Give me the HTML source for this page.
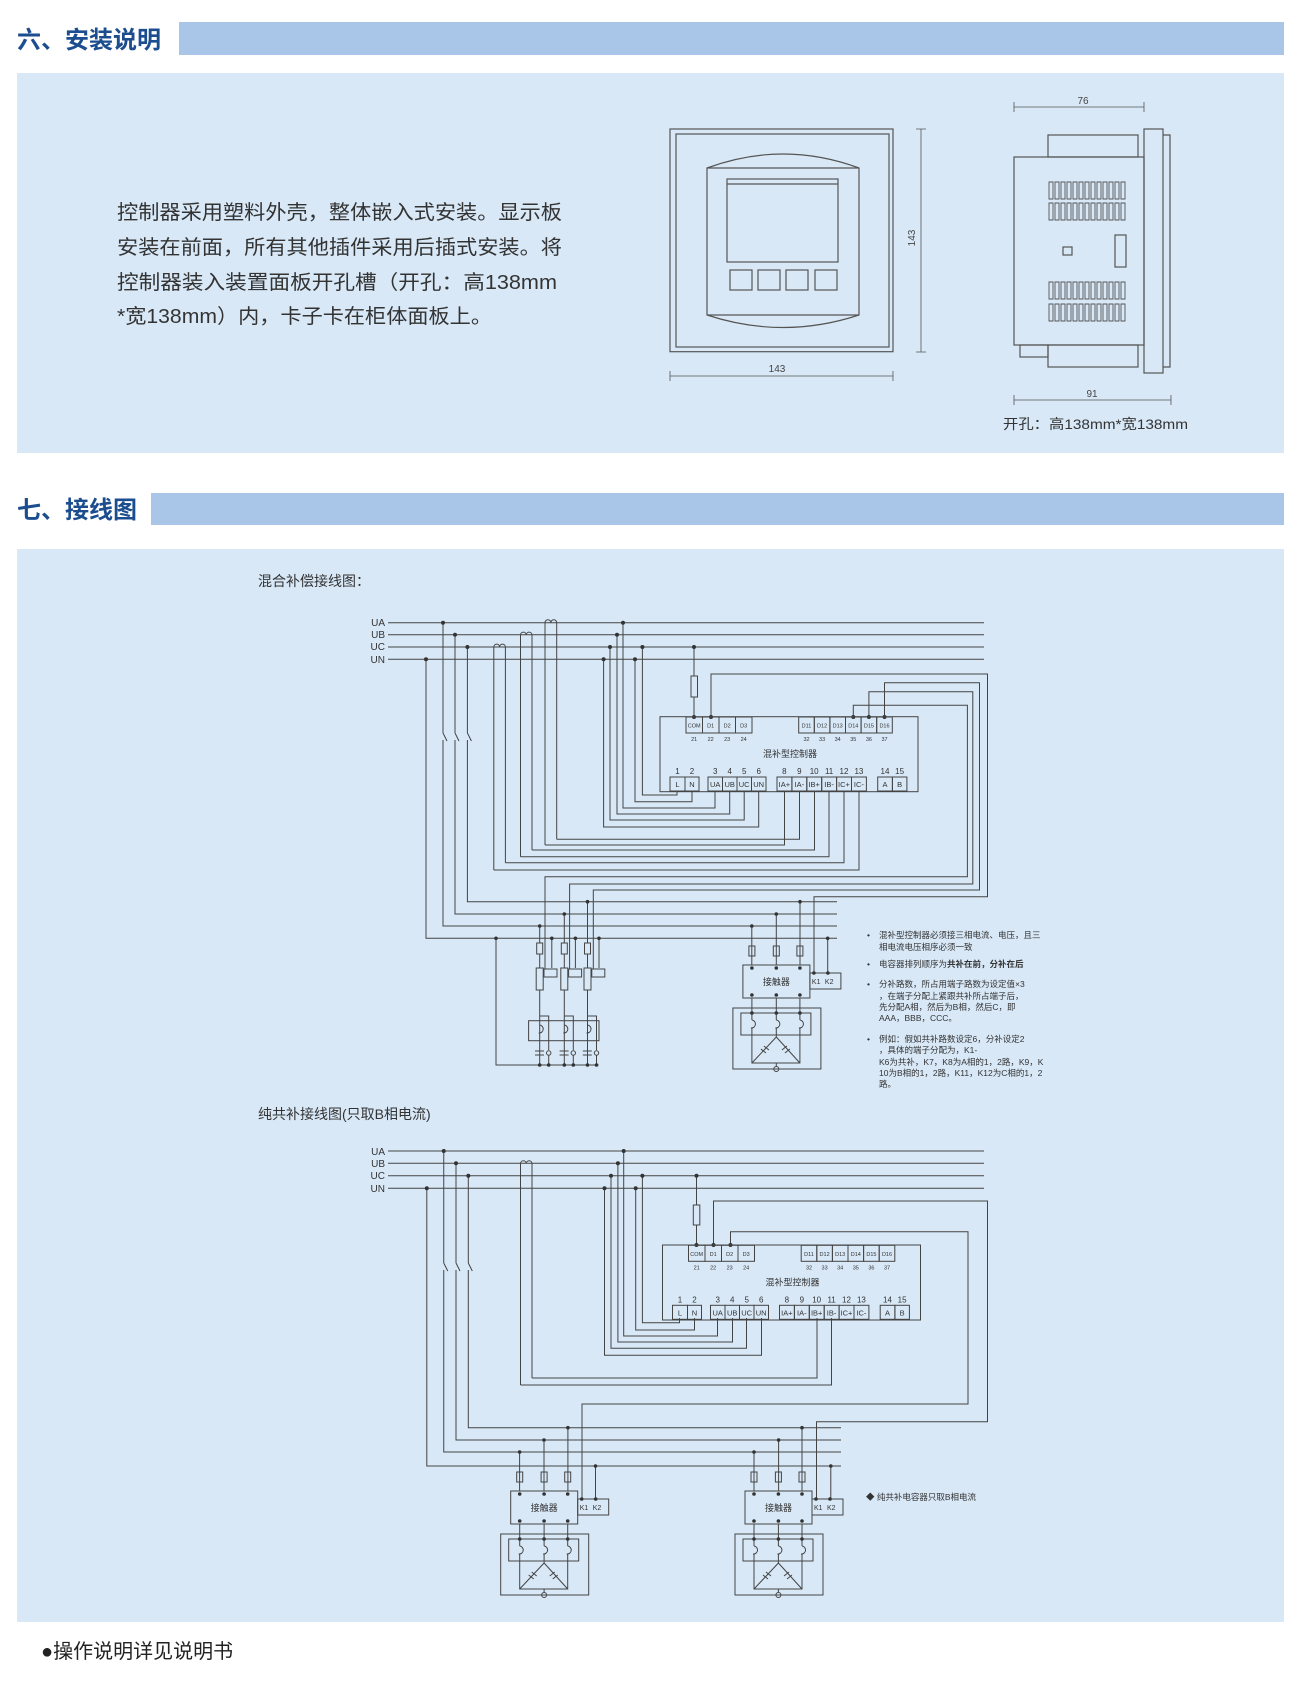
<!DOCTYPE html>
<html><head><meta charset="utf-8"><style>
html,body{margin:0;padding:0;background:#fff}
svg{display:block}
text{font-family:"Liberation Sans","Noto Sans CJK SC",sans-serif}
</style></head><body>
<svg width="1300" height="1684" viewBox="0 0 1300 1684" xmlns="http://www.w3.org/2000/svg">
<defs>
<g id="unit" fill="none" stroke="#444" stroke-width="1">
 <rect x="0" y="0" width="67" height="33"/>
 <rect x="67" y="8" width="31" height="16"/>
 <rect x="6" y="-19" width="6" height="10"/><rect x="30.4" y="-19" width="6" height="10"/><rect x="54" y="-19" width="6" height="10"/>
 <rect x="-10" y="43" width="88" height="61"/>
 <rect x="-2" y="48" width="70" height="22"/>
 <path d="M9 33V55M33.4 33V55M57 33V55"/>
 <path d="M9 55a4 4 0 1 1 -1 8M33.4 55a4 4 0 1 1 -1 8M57 55a4 4 0 1 1 -1 8"/>
 <path d="M9 63V98H57V63M33.4 63V72M33.4 72L9 98M33.4 72L57 98M33.4 98V101"/>
 <path d="M18 84l5 4M21 81l5 4M44 81l-5 4M47 84l-5 4"/>
 <circle cx="33.4" cy="104" r="2.5"/>
 <g fill="#333" stroke="none"><circle cx="9" cy="3" r="1.8"/><circle cx="33.4" cy="3" r="1.8"/><circle cx="57" cy="3" r="1.8"/><circle cx="9" cy="30" r="1.8"/><circle cx="33.4" cy="30" r="1.8"/><circle cx="57" cy="30" r="1.8"/><circle cx="9" cy="48" r="1.8"/><circle cx="33.4" cy="48" r="1.8"/><circle cx="57" cy="48" r="1.8"/><circle cx="71" cy="8" r="1.8"/><circle cx="85" cy="8" r="1.8"/>
 <text x="33.5" y="20" font-size="9" text-anchor="middle" fill="#333">接触器</text>
 <text x="69" y="19" font-size="7" fill="#333">K1</text><text x="82" y="19" font-size="7" fill="#333">K2</text></g>
</g>
<g id="ctrl" stroke="#444" stroke-width="1" fill="none">
 <rect x="660" y="716.7" width="258" height="75"/>
 <rect x="686" y="717" width="16.5" height="16"/><rect x="702.5" y="717" width="16.5" height="16"/><rect x="719" y="717" width="16.5" height="16"/><rect x="735.5" y="717" width="16.5" height="16"/>
 <rect x="798.7" y="717" width="15.6" height="16"/><rect x="814.3" y="717" width="15.6" height="16"/><rect x="829.9" y="717" width="15.6" height="16"/><rect x="845.5" y="717" width="15.6" height="16"/><rect x="861.1" y="717" width="15.6" height="16"/><rect x="876.7" y="717" width="15.6" height="16"/>
 <rect x="670" y="777" width="15" height="14"/><rect x="685" y="777" width="14" height="14"/>
 <rect x="708" y="777" width="14.5" height="14"/><rect x="722.5" y="777" width="14.5" height="14"/><rect x="737" y="777" width="14.5" height="14"/><rect x="751.5" y="777" width="14.5" height="14"/>
 <rect x="777" y="777" width="14.9" height="14"/><rect x="791.9" y="777" width="14.9" height="14"/><rect x="806.8" y="777" width="14.9" height="14"/><rect x="821.7" y="777" width="14.9" height="14"/><rect x="836.6" y="777" width="14.9" height="14"/><rect x="851.5" y="777" width="14.9" height="14"/>
 <rect x="877.7" y="777" width="14.7" height="14"/><rect x="892.4" y="777" width="14.5" height="14"/>
 <g fill="#333" stroke="none" font-size="5.5" text-anchor="middle">
  <text x="694.2" y="727.5">COM</text><text x="710.7" y="727.5">D1</text><text x="727.2" y="727.5">D2</text><text x="743.7" y="727.5">D3</text>
  <text x="806.5" y="727.5">D11</text><text x="822.1" y="727.5">D12</text><text x="837.7" y="727.5">D13</text><text x="853.3" y="727.5">D14</text><text x="868.9" y="727.5">D15</text><text x="884.5" y="727.5">D16</text>
  <text x="694.2" y="741">21</text><text x="710.7" y="741">22</text><text x="727.2" y="741">23</text><text x="743.7" y="741">24</text>
  <text x="806.5" y="741">32</text><text x="822.1" y="741">33</text><text x="837.7" y="741">34</text><text x="853.3" y="741">35</text><text x="868.9" y="741">36</text><text x="884.5" y="741">37</text>
  <g font-size="7.5"><text x="677.5" y="787">L</text><text x="692" y="787">N</text><text x="715.2" y="787">UA</text><text x="729.7" y="787">UB</text><text x="744.2" y="787">UC</text><text x="758.7" y="787">UN</text>
  <text x="784.4" y="787">IA+</text><text x="799.3" y="787">IA-</text><text x="814.2" y="787">IB+</text><text x="829.1" y="787">IB-</text><text x="844" y="787">IC+</text><text x="858.9" y="787">IC-</text><text x="885" y="787">A</text><text x="899.6" y="787">B</text></g>
  <g font-size="8"><text x="677.5" y="774">1</text><text x="692" y="774">2</text><text x="715.2" y="774">3</text><text x="729.7" y="774">4</text><text x="744.2" y="774">5</text><text x="758.7" y="774">6</text>
  <text x="784.4" y="774">8</text><text x="799.3" y="774">9</text><text x="814.2" y="774">10</text><text x="829.1" y="774">11</text><text x="844" y="774">12</text><text x="858.9" y="774">13</text><text x="885" y="774">14</text><text x="899.6" y="774">15</text></g>
  <text x="790" y="757" font-size="9">混补型控制器</text>
 </g>
</g>
</defs>

<!-- Section 1 heading -->
<rect x="179" y="22" width="1105" height="33" fill="#a9c6e9"/>
<text x="17" y="48" font-size="24" fill="#1b4d8f" font-weight="bold">六、安装说明</text>
<rect x="17" y="73" width="1267" height="380" fill="#d8e8f7"/>
<g font-size="20" fill="#333">
<text x="117" y="219" textLength="445" lengthAdjust="spacingAndGlyphs">控制器采用塑料外壳，整体嵌入式安装。显示板</text>
<text x="117" y="254" textLength="445" lengthAdjust="spacingAndGlyphs">安装在前面，所有其他插件采用后插式安装。将</text>
<text x="117" y="289" textLength="440" lengthAdjust="spacingAndGlyphs">控制器装入装置面板开孔槽（开孔：高138mm</text>
<text x="117" y="323" textLength="375" lengthAdjust="spacingAndGlyphs">*宽138mm）内，卡子卡在柜体面板上。</text>
</g>
<!-- front view -->
<g fill="none" stroke="#555" stroke-width="1.2">
<rect x="670" y="129" width="223" height="222.7"/>
<rect x="676" y="134" width="213" height="213"/>
<path d="M707 168Q783 140 859 168V315Q783 340 707 315Z"/>
<path d="M707 168H859M707 315H859"/>
<rect x="727" y="179" width="111" height="83"/><path d="M727 184H838"/>
<rect x="730" y="270" width="22" height="20"/><rect x="758" y="270" width="22" height="20"/><rect x="786" y="270" width="22" height="20"/><rect x="815" y="270" width="22" height="20"/>
<path d="M921 129V352M916 129h10M916 352h10M670 376H893M670 371v10M893 371v10" stroke-width="0.8"/>
</g>
<text x="777" y="372" font-size="10" fill="#444" text-anchor="middle">143</text>
<text x="0" y="0" font-size="10" fill="#444" text-anchor="middle" transform="translate(915,238) rotate(-90)">143</text>
<!-- side view -->
<g fill="none" stroke="#555" stroke-width="1.2">
<rect x="1014" y="157" width="130" height="188"/>
<rect x="1048" y="135" width="90" height="22"/>
<rect x="1048" y="345" width="90" height="22"/>
<rect x="1020" y="345" width="28" height="12"/>
<rect x="1144" y="129" width="19" height="244"/>
<path d="M1163 135h7v232h-7"/>
<rect x="1063" y="247" width="9" height="8"/>
<rect x="1115" y="235" width="11" height="32"/>
<path d="M1014 107H1144M1014 102v10M1144 102v10M1014 400H1171M1014 395v10M1171 395v10" stroke-width="0.8"/>
</g>
<g fill="none" stroke="#555" stroke-width="0.9">
<path id="vent" d="M1049 182h4v17h-4zM1055 182h4v17h-4zM1061 182h4v17h-4zM1067 182h4v17h-4zM1073 182h4v17h-4zM1079 182h4v17h-4zM1085 182h4v17h-4zM1091 182h4v17h-4zM1097 182h4v17h-4zM1103 182h4v17h-4zM1109 182h4v17h-4zM1115 182h4v17h-4zM1121 182h4v17h-4z"/>
<use href="#vent" y="21"/><use href="#vent" y="100"/><use href="#vent" y="122"/>
</g>
<text x="1083" y="104" font-size="10" fill="#444" text-anchor="middle">76</text>
<text x="1092" y="397" font-size="10" fill="#444" text-anchor="middle">91</text>
<text x="1003" y="429" font-size="14" fill="#333" textLength="185" lengthAdjust="spacingAndGlyphs">开孔：高138mm*宽138mm</text>

<!-- Section 2 heading -->
<rect x="151" y="493" width="1133" height="32" fill="#a9c6e9"/>
<text x="17" y="518" font-size="24" fill="#1b4d8f" font-weight="bold">七、接线图</text>
<rect x="17" y="549" width="1267" height="1073" fill="#d8e8f7"/>
<text x="41" y="1658" font-size="20" fill="#222">●操作说明详见说明书</text>

<!-- Diagram 1 -->
<text x="258" y="586" font-size="14" fill="#333">混合补偿接线图：</text>
<g font-size="10" fill="#333" text-anchor="end"><text x="385" y="626">UA</text><text x="385" y="638">UB</text><text x="385" y="650">UC</text><text x="385" y="663">UN</text></g>
<g fill="none" stroke="#444" stroke-width="1">
<path d="M388 622.7H984M388 634.7H984M388 647H984M388 659.3H984"/>
<path d="M493.8 870V647a2.9 2.9 0 0 1 5.8 0a2.9 2.9 0 0 1 5.8 0V862.7"/>
<path d="M520.5 856.7V634.7a2.9 2.9 0 0 1 5.75 0a2.9 2.9 0 0 1 5.75 0V850"/>
<path d="M545 845V622.7a2.9 2.9 0 0 1 5.85 0a2.9 2.9 0 0 1 5.85 0V839.3"/>
<path d="M493.8 870H859V791M505.4 862.7H844V791M520.5 856.7H829V791M532 850H814.5V791M545 845H784.5V791M556.7 839.3H799.5V791"/>
<path d="M426 659.3V938.3H837M443 622.7V733M443 740V926H837M455 634.7V733M455 740V914H837M467.4 647V733M467.4 740V901.7H837"/>
<path d="M443 733l4 8M455 733l4 8M467.4 733l4 8"/>
<path d="M677 791V795H642.4V647M692 791V801.7H635V659.3M715 791V808H623V622.7M729.7 791V814H617V634.7M744.2 791V820H610V647M758.7 791V827H603.6V659.3"/>
<path d="M694 647V717"/><rect x="691" y="676" width="6.5" height="21" fill="#d8e8f7"/>
<path d="M711 717V674H987.5V896.7H814V973"/>
<path d="M853.3 717V705.3H967.4V876.7H545V973"/>
<path d="M868.9 717V691.7H972.8V884H569.6V973"/>
<path d="M884.5 717V682.7H979.5V890H593.3V973"/>
<path d="M539.7 926V1065M564.3 914V1065M587.5 901.7V1065M496 938.3V1065H598.5"/>
<path d="M551.8 938.3V968M575.4 938.3V968M599 938.3V968"/>
<g fill="#d8e8f7">
<rect x="536.7" y="943" width="6" height="11"/><rect x="561.3" y="943" width="6" height="11"/><rect x="584.5" y="943" width="6" height="11"/>
<rect x="536.2" y="968" width="7" height="22"/><rect x="560.8" y="968" width="7" height="22"/><rect x="584" y="968" width="7" height="22"/>
<rect x="544" y="969" width="13" height="8"/><rect x="568.6" y="969" width="13" height="8"/><rect x="591.8" y="969" width="13" height="8"/>
</g>
<rect x="528.6" y="1020.7" width="70.4" height="20"/>
<path d="M539.7 1016h9v34M564.3 1016h9v34M587.5 1016h9v34"/>
<path d="M539.7 1025a4 4 0 1 1 -1 8M564.3 1025a4 4 0 1 1 -1 8M587.5 1025a4 4 0 1 1 -1 8"/>
<path d="M535 1051h9M535 1055h9M559.6 1051h9M559.6 1055h9M582.8 1051h9M582.8 1055h9"/>
<circle cx="548.7" cy="1053" r="2.2"/><circle cx="573.3" cy="1053" r="2.2"/><circle cx="596.5" cy="1053" r="2.2"/>
<path d="M548.7 1055V1065M573.3 1055V1065M596.5 1055V1065"/>
<path d="M751.8 926V965M776.3 914V965M800 901.7V965M827.7 938.3V973"/>
</g>
<g fill="#333">
<circle cx="443" cy="622.7" r="2"/><circle cx="623" cy="622.7" r="2"/><circle cx="455" cy="634.7" r="2"/><circle cx="617" cy="634.7" r="2"/>
<circle cx="467.4" cy="647" r="2"/><circle cx="610" cy="647" r="2"/><circle cx="642.4" cy="647" r="2"/><circle cx="694" cy="647" r="2"/>
<circle cx="426" cy="659.3" r="2"/><circle cx="603.6" cy="659.3" r="2"/><circle cx="635" cy="659.3" r="2"/>
<circle cx="694" cy="717" r="2"/><circle cx="711" cy="717" r="2"/><circle cx="853.3" cy="717" r="2"/><circle cx="868.9" cy="717" r="2"/><circle cx="884.5" cy="717" r="2"/>
<circle cx="539.7" cy="926" r="1.8"/><circle cx="564.3" cy="914" r="1.8"/><circle cx="587.5" cy="901.7" r="1.8"/><circle cx="496" cy="938.3" r="1.8"/>
<circle cx="551.8" cy="938.3" r="1.8"/><circle cx="575.4" cy="938.3" r="1.8"/><circle cx="599" cy="938.3" r="1.8"/>
<circle cx="751.8" cy="926" r="1.8"/><circle cx="776.3" cy="914" r="1.8"/><circle cx="800" cy="901.7" r="1.8"/><circle cx="827.7" cy="938.3" r="1.8"/>
<circle cx="539.7" cy="1065" r="1.8"/><circle cx="548.7" cy="1065" r="1.8"/><circle cx="564.3" cy="1065" r="1.8"/><circle cx="573.3" cy="1065" r="1.8"/><circle cx="587.5" cy="1065" r="1.8"/><circle cx="596.5" cy="1065" r="1.8"/>
</g>
<use href="#ctrl"/>
<use href="#unit" x="742.9" y="965"/>
<g font-size="8.5" fill="#333">
<text x="867" y="938">•</text><text x="879" y="938">混补型控制器必须接三相电流、电压，且三</text>
<text x="879" y="950">相电流电压相序必须一致</text>
<text x="867" y="967">•</text><text x="879" y="967">电容器排列顺序为<tspan font-weight="bold">共补在前，分补在后</tspan></text>
<text x="867" y="987">•</text><text x="879" y="987">分补路数，所占用端子路数为设定值×3</text>
<text x="879" y="999">，在端子分配上紧跟共补所占端子后，</text>
<text x="879" y="1010">先分配A相，然后为B相，然后C，即</text>
<text x="879" y="1021">AAA，BBB，CCC。</text>
<text x="867" y="1042">•</text><text x="879" y="1042">例如：假如共补路数设定6，分补设定2</text>
<text x="879" y="1053">，具体的端子分配为，K1-</text>
<text x="879" y="1065">K6为共补，K7，K8为A相的1，2路，K9，K</text>
<text x="879" y="1076">10为B相的1，2路，K11，K12为C相的1，2</text>
<text x="879" y="1087">路。</text>
</g>

<!-- Diagram 2 -->
<text x="258" y="1119" font-size="14" fill="#333">纯共补接线图(只取B相电流)</text>
<g font-size="10" fill="#333" text-anchor="end"><text x="385" y="1155">UA</text><text x="385" y="1167">UB</text><text x="385" y="1179">UC</text><text x="385" y="1192">UN</text></g>
<g fill="none" stroke="#444" stroke-width="1">
<path d="M388 1151H984M388 1163.3H984M388 1175.7H984M388 1188.3H984"/>
<path d="M520.5 1385V1163.3a2.9 2.9 0 0 1 5.75 0a2.9 2.9 0 0 1 5.75 0V1378"/>
<path d="M520.5 1385H831.5V1318M532 1378H817V1318"/>
<path d="M426.8 1188.3V1466H841M443.75 1151V1263M443.75 1270V1452H841M456 1163.3V1263M456 1270V1440H841M468.3 1175.7V1263M468.3 1270V1427.7H841"/>
<path d="M443.75 1263l4 8M456 1263l4 8M468.3 1263l4 8"/>
<path d="M679.5 1318V1322.7H642.4V1175.7M694.5 1318V1330H635.7V1188.3M717.5 1318V1336H623.7V1151M732.5 1318V1342H617.9V1163.3M746.5 1318V1348.3H611V1175.7M761.5 1318V1355.3H604.5V1188.3"/>
<path d="M696.5 1175.7V1245"/><rect x="693.3" y="1205" width="6.5" height="20" fill="#d8e8f7"/>
<path d="M713.5 1245V1201H987.5V1421.7H816.5V1499"/>
<path d="M730.5 1245V1231.7H968V1404H582V1499"/>
<path d="M519.6 1452V1491M544 1440V1491M567.9 1427.7V1491M595.5 1466V1499"/>
<path d="M754 1452V1491M778.6 1440V1491M802 1427.7V1491M830.8 1466V1499"/>
</g>
<g fill="#333">
<circle cx="443.75" cy="1151" r="2"/><circle cx="623.7" cy="1151" r="2"/><circle cx="456" cy="1163.3" r="2"/><circle cx="617.9" cy="1163.3" r="2"/>
<circle cx="468.3" cy="1175.7" r="2"/><circle cx="611" cy="1175.7" r="2"/><circle cx="642.4" cy="1175.7" r="2"/><circle cx="696.5" cy="1175.7" r="2"/>
<circle cx="426.8" cy="1188.3" r="2"/><circle cx="604.5" cy="1188.3" r="2"/><circle cx="635.7" cy="1188.3" r="2"/>
<circle cx="696.5" cy="1245" r="2"/><circle cx="713.5" cy="1245" r="2"/><circle cx="730.5" cy="1245" r="2"/>
<circle cx="519.6" cy="1452" r="1.8"/><circle cx="544" cy="1440" r="1.8"/><circle cx="567.9" cy="1427.7" r="1.8"/><circle cx="595.5" cy="1466" r="1.8"/>
<circle cx="754" cy="1452" r="1.8"/><circle cx="778.6" cy="1440" r="1.8"/><circle cx="802" cy="1427.7" r="1.8"/><circle cx="830.8" cy="1466" r="1.8"/>
</g>
<use href="#ctrl" x="2.5" y="528.3"/>
<use href="#unit" x="510.7" y="1491"/>
<use href="#unit" x="745" y="1491"/>
<text x="866" y="1500" font-size="8.5" fill="#333">◆ 纯共补电容器只取B相电流</text>
</svg>
</body></html>
